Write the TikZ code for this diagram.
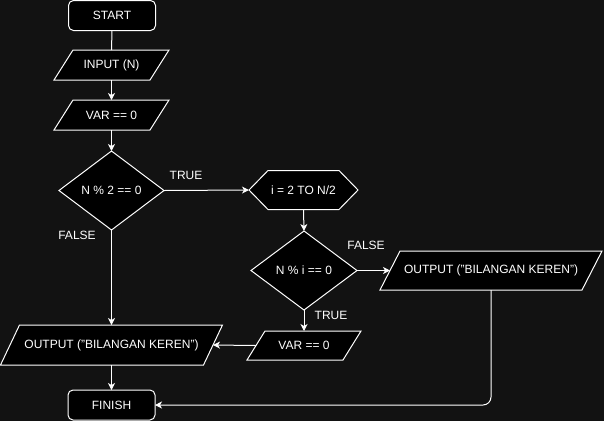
\documentclass[tikz,border=0pt]{standalone}
\usepackage{fontspec}
\setmainfont{Liberation Sans}
\usetikzlibrary{arrows.meta,calc}
\pgfdeclarelayer{bgl}
\pgfdeclarelayer{shl}
\pgfsetlayers{bgl,shl,main}
\definecolor{bgc}{HTML}{121212}
\tikzset{
  txt/.style={inner sep=0pt, outer sep=0pt, text=white, font=\fontsize{12}{14}\selectfont},
  lbl/.style={inner sep=0pt, text=white, font=\fontsize{12}{14}\selectfont},
  frame/.style={draw=white, fill=black, line width=1pt, line join=miter},
  conn/.style={draw=white, line width=1pt},
  arr/.style={conn, -{Stealth[length=7pt,width=7pt,inset=2pt]}},
}
\begin{document}
\begin{tikzpicture}[x=1pt,y=-1pt]
\begin{pgfonlayer}{bgl}
\fill[bgc] (0,0) rectangle (604,421);
\end{pgfonlayer}
\useasboundingbox (0,0) rectangle (604,421);

% terminals
\node[txt, frame, rounded corners=5pt, minimum width=87pt, minimum height=30pt] (start) at (112,15.5) {START};
\node[txt, frame, rounded corners=5pt, minimum width=87pt, minimum height=30pt] (finish) at (111.5,405) {FINISH};

% text nodes sized as the shapes' bounding boxes
\node[txt, minimum width=115pt, minimum height=30pt] (in) at (111.5,65) {INPUT (N)};
\node[txt, minimum width=115pt, minimum height=30pt] (var1) at (111.5,115) {VAR == 0};
\node[txt, minimum width=105pt, minimum height=79pt] (d1) at (111.5,190.5) {N \% 2 == 0};
\node[txt, minimum width=109pt, minimum height=39pt] (hex) at (303.5,190) {i = 2 TO N/2};
\node[txt, minimum width=106pt, minimum height=79pt] (d2) at (304,270.5) {N \% i == 0};
\node[txt, minimum width=222pt, minimum height=39pt] (out2) at (491,270.5) {OUTPUT ("BILANGAN KEREN")};
\node[txt, minimum width=114pt, minimum height=29pt] (var2) at (304,345.5) {VAR == 0};
\node[txt, minimum width=222pt, minimum height=40pt] (out1) at (111.5,345) {OUTPUT ("BILANGAN KEREN")};

\begin{pgfonlayer}{shl}
\path[frame] ([xshift=19pt]in.north west) -- (in.north east) -- ([xshift=-19pt]in.south east) -- (in.south west) -- cycle;
\path[frame] ([xshift=19pt]var1.north west) -- (var1.north east) -- ([xshift=-19pt]var1.south east) -- (var1.south west) -- cycle;
\path[frame] (d1.north) -- (d1.east) -- (d1.south) -- (d1.west) -- cycle;
\path[frame] (hex.west) -- ([xshift=19pt]hex.north west) -- ([xshift=-19pt]hex.north east) -- (hex.east) -- ([xshift=-19pt]hex.south east) -- ([xshift=19pt]hex.south west) -- cycle;
\path[frame] (d2.north) -- (d2.east) -- (d2.south) -- (d2.west) -- cycle;
\path[frame] ([xshift=20pt]out2.north west) -- (out2.north east) -- ([xshift=-20pt]out2.south east) -- (out2.south west) -- cycle;
\path[frame] ([xshift=18pt]var2.north west) -- (var2.north east) -- ([xshift=-18pt]var2.south east) -- (var2.south west) -- cycle;
\path[frame] ([xshift=19pt]out1.north west) -- (out1.north east) -- ([xshift=-19pt]out1.south east) -- (out1.south west) -- cycle;
\end{pgfonlayer}

% connectors
\draw[conn] (start.south) -- (in.north);
\draw[arr] (in.south) -- (var1.north);
\draw[arr] (var1.south) -- (d1.north);
\draw[arr] (d1.east) -- (hex.west);
\draw[arr] (hex.south) -- (d2.north);
\draw[arr] (d2.east) -- ([xshift=10pt]out2.west);
\draw[arr] (d2.south) -- (var2.north);
\draw[arr] ([xshift=9pt]var2.west) -- ([xshift=-9.5pt]out1.east);
\draw[arr] (d1.south) -- (out1.north);
\draw[arr] (out1.south) -- (finish.north);
\draw[arr, rounded corners=8pt] (out2.south) |- (finish.east);

% labels
\node[lbl] (ltrue1) at (186,175) {TRUE};
\node[lbl] (lfalse1) at (77,235) {FALSE};
\node[lbl] (lfalse2) at (366,245) {FALSE};
\node[lbl] (ltrue2) at (331,315) {TRUE};
\end{tikzpicture}
\end{document}
